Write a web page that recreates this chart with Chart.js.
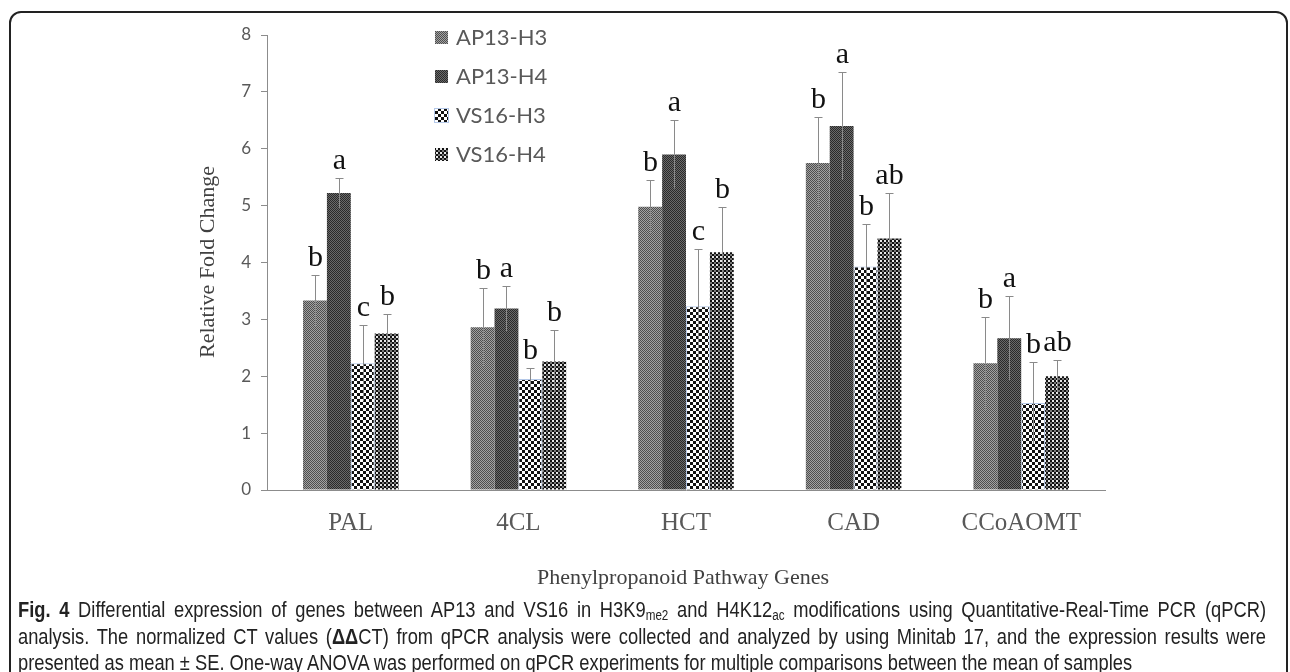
<!DOCTYPE html>
<html>
<head>
<meta charset="utf-8">
<script src="https://cdn.jsdelivr.net/npm/chart.js@4.4.1/dist/chart.umd.min.js"></script>
<style>
    html, body { margin: 0; padding: 0; background: #fff; width: 1290px; height: 672px; overflow: hidden; }
    #frame { position: absolute; left: 9px; top: 11px; width: 1275px; height: 720px; border: 2px solid #222; border-radius: 12px; }
    #wrap { position: absolute; left: 0; top: 0; width: 1290px; height: 600px; }
    #caption { position: absolute; left: 18px; top: 597px; font-family: "Liberation Sans", Arial, sans-serif; font-size: 22px; line-height: 26.5px; color: #222; }
    #caption .line { display: block; white-space: nowrap; transform-origin: 0 50%; width: max-content; }
    #caption .line.just { text-align: justify; text-align-last: justify; white-space: normal; }
    #caption sub { font-size: 14px; line-height: 0; vertical-align: -3px; }
</style>
</head>
<body>
<div id="frame"></div>
<div id="wrap"><canvas id="chart" width="1290" height="600"></canvas></div>
<div id="caption">
    <span class="line just" data-w="1248"><b>Fig. 4</b> Differential expression of genes between AP13 and VS16 in H3K9<sub>me2</sub> and H4K12<sub>ac</sub> modifications using Quantitative-Real-Time PCR (qPCR)</span>
    <span class="line just" data-w="1248">analysis. The normalized CT values (<b>ΔΔ</b>CT) from qPCR analysis were collected and analyzed by using Minitab 17, and the expression results were</span>
    <span class="line" data-w="1053">presented as mean ± SE. One-way ANOVA was performed on qPCR experiments for multiple comparisons between the mean of samples</span>
</div>

<script>
// ── Data ─────────────────────────────────────────────────────
const genes = ['PAL', '4CL', 'HCT', 'CAD', 'CCoAOMT'];
const seriesNames = ['AP13-H3', 'AP13-H4', 'VS16-H3', 'VS16-H4'];
const yTicks = [0, 1, 2, 3, 4, 5, 6, 7, 8];

const ap13H3 = [3.33, 2.86, 4.98, 5.75, 2.23];
const ap13H4 = [5.22, 3.19, 5.90, 6.40, 2.67];
const vs16H3 = [2.23, 1.95, 3.23, 3.93, 1.53];
const vs16H4 = [2.75, 2.26, 4.18, 4.42, 2.00];

// standard errors (upper whisker minus mean)
const ap13H3Err = [0.45, 0.70, 0.47, 0.80, 0.82];
const ap13H4Err = [0.26, 0.40, 0.60, 0.95, 0.74];
const vs16H3Err = [0.67, 0.19, 1.00, 0.74, 0.72];
const vs16H4Err = [0.34, 0.55, 0.80, 0.81, 0.28];

// significance letters
const ap13H3Sig = ['b', 'b', 'b', 'b', 'b'];
const ap13H4Sig = ['a', 'a', 'a', 'a', 'a'];
const vs16H3Sig = ['c', 'b', 'c', 'b', 'b'];
const vs16H4Sig = ['b', 'b', 'b', 'ab', 'ab'];

// ── Fill patterns ───────────────────────────────────────────
function makeChecker(cell, c1, c2) {
    const c = document.createElement('canvas');
    c.width = cell * 2; c.height = cell * 2;
    const x = c.getContext('2d');
    x.fillStyle = c1; x.fillRect(0, 0, cell * 2, cell * 2);
    x.fillStyle = c2;
    x.fillRect(0, 0, cell, cell);
    x.fillRect(cell, cell, cell, cell);
    return x.createPattern(c, 'repeat');
}

function makeDots() {
    const c = document.createElement('canvas');
    c.width = 4; c.height = 4;
    const x = c.getContext('2d');
    x.fillStyle = '#111'; x.fillRect(0, 0, 4, 4);
    x.fillStyle = '#e8e8e8';
    x.fillRect(0, 0, 2, 2);
    x.fillStyle = '#777';
    x.fillRect(2, 2, 2, 2);
    return x.createPattern(c, 'repeat');
}

const patterns = [
    makeChecker(1, '#a2a2a2', '#4e4e4e'),
    makeChecker(1, '#6a6a6a', '#2a2a2a'),
    makeChecker(3, '#ffffff', '#111111'),
    makeDots()
];
const borders = ['rgba(0,0,0,0)', 'rgba(0,0,0,0)', '#b4c8e8', 'rgba(0,0,0,0)'];

const values = [ap13H3, ap13H4, vs16H3, vs16H4];
const errors = [ap13H3Err, ap13H4Err, vs16H3Err, vs16H4Err];
const letters = [ap13H3Sig, ap13H4Sig, vs16H3Sig, vs16H4Sig];

// ── Error bars + letters + legend + axis titles ─────────────
const extrasPlugin = {
    id: 'extras',
    afterDatasetsDraw(chart) {
        const ctx = chart.ctx;
        const y = chart.scales.y;
        ctx.save();
        chart.data.datasets.forEach((ds, di) => {
            const meta = chart.getDatasetMeta(di);
            meta.data.forEach((bar, i) => {
                const v = ds.data[i];
                const e = errors[di][i];
                const top = Math.round(y.getPixelForValue(v + e)) + 0.5;
                const bot = y.getPixelForValue(v - e);
                const x = Math.round(bar.x) + 0.5;
                ctx.strokeStyle = '#8a8a8a';
                ctx.lineWidth = 1;
                ctx.beginPath();
                ctx.moveTo(x, bot); ctx.lineTo(x, top);
                ctx.moveTo(x - 4, top); ctx.lineTo(x + 4, top);
                ctx.stroke();

                ctx.fillStyle = '#111';
                ctx.font = '30px "Liberation Serif", "Times New Roman", serif';
                ctx.textAlign = 'center';
                ctx.textBaseline = 'alphabetic';
                ctx.fillText(letters[di][i], x, top - 10);
            });
        });

        // legend
        ctx.font = '22px Lato, "Open Sans", sans-serif';
        ctx.textAlign = 'left';
        ctx.textBaseline = 'middle';
        seriesNames.forEach((name, i) => {
            const cy = 37 + i * 39;
            ctx.fillStyle = patterns[i];
            ctx.fillRect(435, cy - 6, 13, 13);
            if (i === 2) {
                ctx.strokeStyle = borders[2];
                ctx.strokeRect(434.5, cy - 6.5, 14, 14);
            }
            ctx.fillStyle = '#595959';
            ctx.fillText(name, 456, cy + 1);
        });

        // axis titles
        ctx.fillStyle = '#404040';
        ctx.font = '22px "Liberation Serif", "Times New Roman", serif';
        ctx.textAlign = 'center';
        ctx.textBaseline = 'middle';
        ctx.fillText('Phenylpropanoid Pathway Genes', 683, 578);
        ctx.translate(208, 262);
        ctx.rotate(-Math.PI / 2);
        ctx.fillText('Relative Fold Change', 0, 0);
        ctx.restore();
    }
};

// ── Chart ───────────────────────────────────────────────────
function initChart() {
    const canvas = document.getElementById('chart');
    new Chart(canvas, {
        type: 'bar',
        data: {
            labels: genes,
            datasets: seriesNames.map((name, i) => ({
                label: name,
                data: values[i],
                backgroundColor: patterns[i],
                borderColor: borders[i],
                borderWidth: i === 2 ? 1 : 0,
                categoryPercentage: 0.57,
                barPercentage: 1.0
            }))
        },
        options: {
            responsive: false,
            animation: false,
            devicePixelRatio: 1,
            layout: { padding: { top: 35, right: 185, bottom: 0, left: 0 } },
            plugins: { legend: { display: false }, tooltip: { enabled: false } },
            scales: {
                x: {
                    grid: { display: false },
                    border: { display: true, color: '#8c8c8c', width: 1 },
                    ticks: {
                        color: '#595959',
                        padding: 10,
                        font: { family: '"Liberation Serif", "Times New Roman", serif', size: 25 }
                    },
                    afterFit(s) { s.height = 110; }
                },
                y: {
                    min: yTicks[0],
                    max: yTicks[yTicks.length - 1],
                    afterBuildTicks(s) { s.ticks = yTicks.map(v => ({ value: v })); },
                    grid: { drawOnChartArea: false, tickLength: 6, color: '#8c8c8c' },
                    border: { display: true, color: '#8c8c8c', width: 1 },
                    ticks: {
                        color: '#595959',
                        padding: 10,
                        font: { family: 'Lato, "Open Sans", sans-serif', size: 17 }
                    },
                    afterFit(s) { s.width = 267; }
                }
            }
        },
        plugins: [extrasPlugin]
    });
}

// ── Caption: condensed face, justified like the journal layout ─
function fitCaption() {
    const lines = [...document.querySelectorAll('#caption .line')];
    const r = el => parseFloat(el.dataset.w) / el.getBoundingClientRect().width;
    const k = (r(lines[0]) + r(lines[2])) / 2;
    lines.forEach(el => {
        if (el.classList.contains('just')) el.style.width = (parseFloat(el.dataset.w) / k) + 'px';
        el.style.transform = `scaleX(${k})`;
    });
}

document.addEventListener('DOMContentLoaded', () => {
    initChart();
    fitCaption();
});
</script>
</body>
</html>
